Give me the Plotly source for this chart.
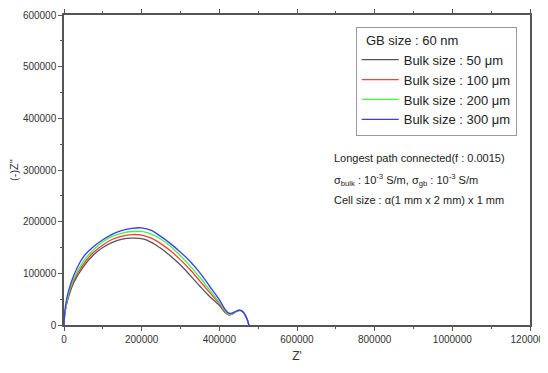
import plotly.graph_objects as go

# ---- data ----
x_common = [0, 2000, 6000, 12000, 25000, 50000, 75000, 100000, 125000, 150000, 175000, 200000, 225000, 250000, 275000, 300000, 325000, 350000, 375000, 400000, 415000, 424000, 432000, 440000, 450000, 458000, 466000, 472000, 476000]

y_50 = [0, 22000, 38000, 55000, 82000, 113000, 135000, 150000, 160000, 166000, 168000, 167000, 160000, 148000, 133000, 116000, 96000, 75000, 55000, 38000, 24000, 19500, 21000, 24500, 28000, 27000, 20000, 10000, 0]
y_100 = [0, 22000, 39000, 58000, 86000, 118000, 140000, 155000, 166000, 172000, 175000, 174000, 168000, 157000, 143000, 126000, 107000, 85000, 63000, 41000, 25000, 20000, 21000, 24500, 28000, 27000, 20000, 10000, 0]
y_200 = [0, 23000, 41000, 62000, 90000, 123000, 145000, 161000, 172000, 178000, 181000, 181000, 176000, 166000, 152000, 134000, 114000, 92000, 68000, 44000, 27000, 21000, 22000, 25000, 28000, 27000, 20000, 10000, 0]
y_300 = [0, 25000, 47000, 67000, 96000, 132000, 151000, 165000, 176000, 183000, 187000, 188000, 183000, 171000, 157000, 141000, 123000, 101000, 75000, 49000, 30000, 23000, 23000, 25500, 28500, 27500, 20000, 10000, 0]

series_names = ["Bulk size : 50 \u03bcm", "Bulk size : 100 \u03bcm", "Bulk size : 200 \u03bcm", "Bulk size : 300 \u03bcm"]
series_colors = ["#555555", "#ff3b3b", "#3bff3b", "#3b3bff"]

x_ticks = [0, 200000, 400000, 600000, 800000, 1000000, 1200000]
y_ticks = [0, 100000, 200000, 300000, 400000, 500000, 600000]

fig = go.Figure()
for ys, name, col in zip([y_50, y_100, y_200, y_300], series_names, series_colors):
    fig.add_trace(go.Scatter(x=x_common, y=ys, mode="lines", name=name,
                             line=dict(color=col, width=1.3, shape="spline", smoothing=1.0)))

axis_common = dict(showgrid=False, zeroline=False, showline=True, linecolor="#555555", linewidth=1.5,
                   ticks="outside", ticklen=4, tickwidth=1, tickcolor="#555555", automargin=False,
                   ticklabeloverflow="allow",
                   tickfont=dict(family="Liberation Sans, Arial", size=10, color="#333333"))

fig.update_xaxes(**axis_common, range=[0, 1200000], tickvals=x_ticks, ticktext=[str(v) for v in x_ticks],
                 mirror="allticks",
                 minor=dict(dtick=100000, ticks="outside", ticklen=2, tickcolor="#555555"),
                 title=dict(text="Z'", font=dict(family="Liberation Sans, Arial", size=12, color="#333333"), standoff=8))
fig.update_yaxes(**axis_common, range=[0, 600000], tickvals=y_ticks, ticktext=[str(v) for v in y_ticks],
                 mirror=True,
                 minor=dict(dtick=50000, ticks="outside", ticklen=2, tickcolor="#555555"),
                 title=dict(text="(-)Z''", font=dict(family="Liberation Sans, Arial", size=11, color="#333333"), standoff=6))

# the page body adds an 8px offset, so the figure is sized to fit the window
fig.update_layout(
    width=540, height=365,
    margin=dict(l=56, r=18, t=7, b=48),
    paper_bgcolor="white", plot_bgcolor="white",
    font=dict(family="Liberation Sans, Arial", color="#222222"),
    legend=dict(x=0.626, y=0.962, xanchor="left", yanchor="top",
                bordercolor="#999999", borderwidth=1, bgcolor="white",
                font=dict(size=13, family="Liberation Sans, Arial", color="#222222"),
                title=dict(text="\u00a0\u00a0GB size : 60 nm", font=dict(size=13, family="Liberation Sans, Arial", color="#222222")),
                tracegroupgap=0, itemwidth=37),
    annotations=[
        dict(xref="paper", yref="paper", x=0.576, y=0.539, xanchor="left", yanchor="middle", showarrow=False,
             text="Longest path connected(f : 0.0015)", font=dict(size=11, color="#222222")),
        dict(xref="paper", yref="paper", x=0.576, y=0.468, xanchor="left", yanchor="middle", showarrow=False,
             text="\u03c3<sub>bulk</sub> : 10<sup>-3</sup> S/m, \u03c3<sub>gb</sub> : 10<sup>-3</sup> S/m", font=dict(size=11, color="#222222")),
        dict(xref="paper", yref="paper", x=0.576, y=0.403, xanchor="left", yanchor="middle", showarrow=False,
             text="Cell size : \u03b1(1 mm x 2 mm) x 1 mm", font=dict(size=11, color="#222222")),
    ],
)

fig.write_html("out.html")
